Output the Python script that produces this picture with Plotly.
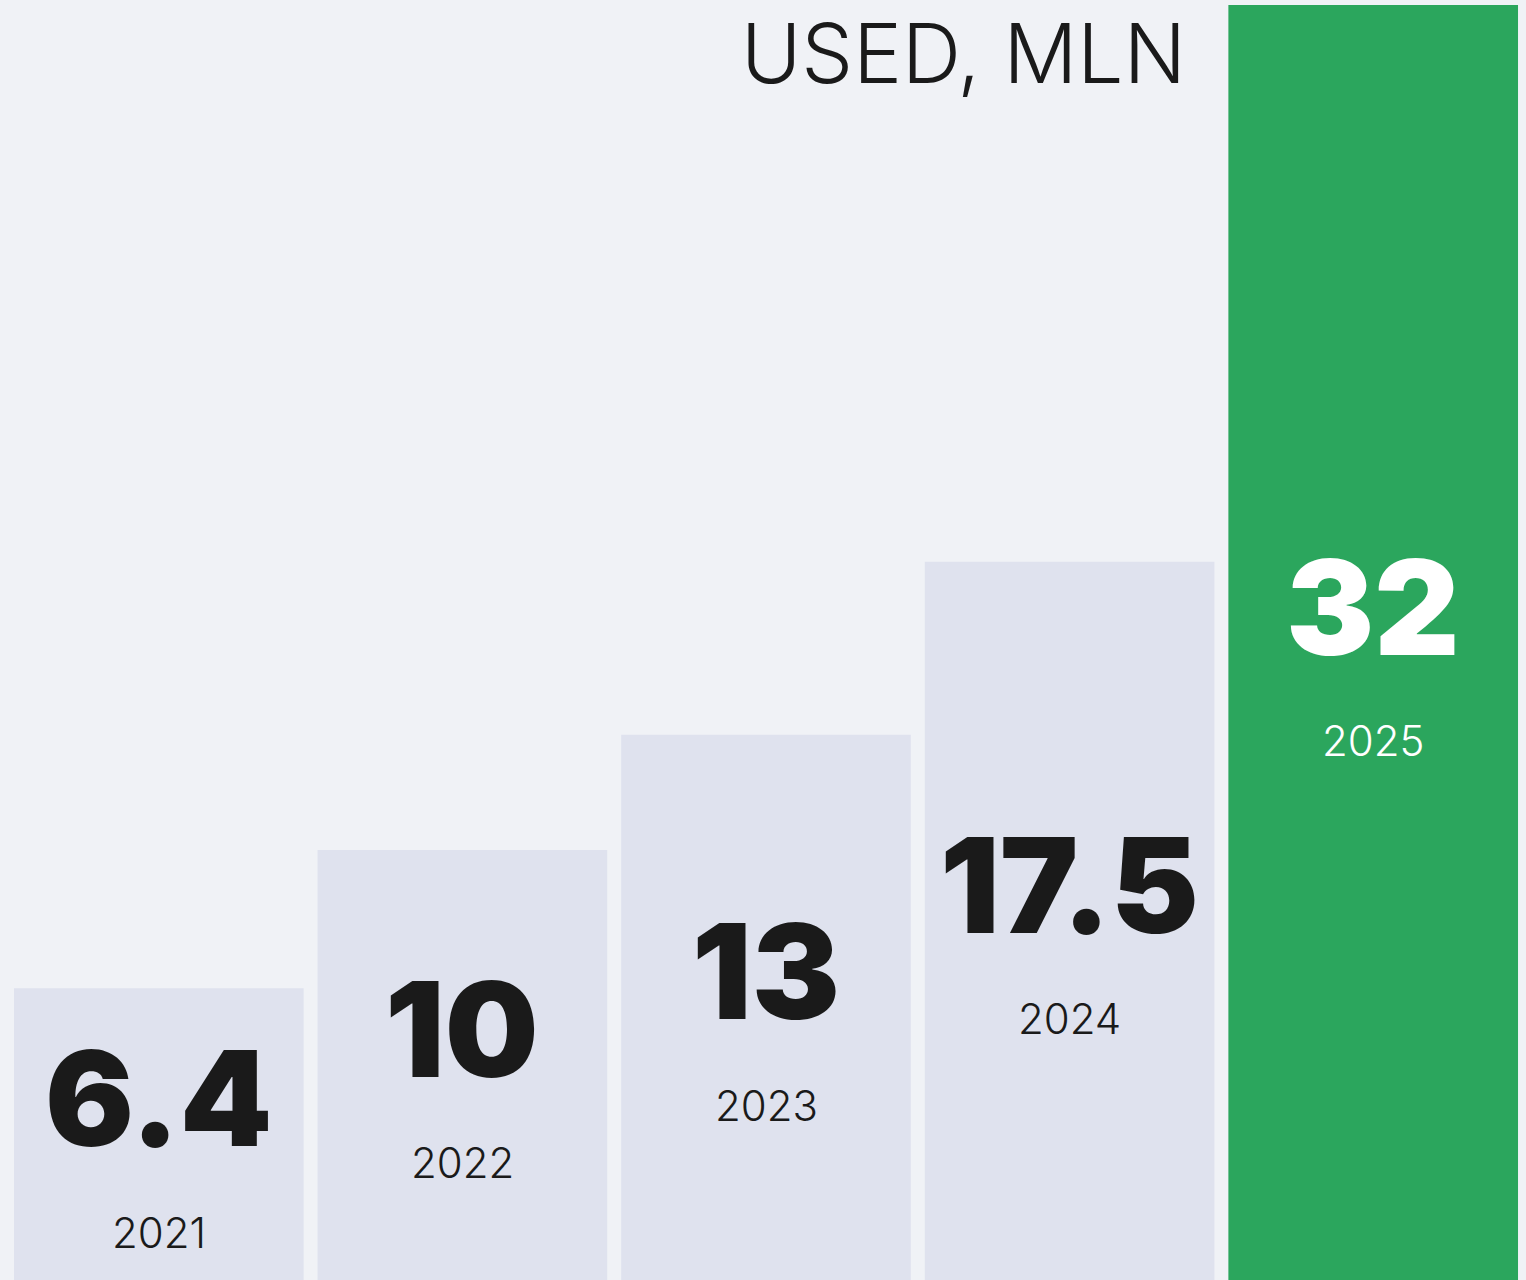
import plotly.graph_objects as go

years = ["2021", "2022", "2023", "2024", "2025"]
values = [6.4, 10, 13, 17.5, 32]
value_labels = ["6.4", "10", "13", "17.5", "32"]
title_text = "USED, MLN"

BASE = -1.2
BG = "#F0F2F6"
LIGHT = "#DFE2EE"
GREEN = "#2BA65D"
DARK = "#1A1A1A"

colors = [LIGHT] * (len(years) - 1) + [GREEN]
txt_colors = [DARK] * (len(years) - 1) + ["#FFFFFF"]

fig = go.Figure()
fig.add_trace(go.Bar(
    x=years,
    y=[v - BASE for v in values],
    base=[BASE] * len(values),
    marker=dict(color=colors, line=dict(width=0)),
    hoverinfo="skip",
))

for i, (yr, v, lab, tc) in enumerate(zip(years, values, value_labels, txt_colors)):
    mid = (BASE + v) / 2
    fig.add_annotation(x=i, y=mid, text=lab, showarrow=False,
                       xanchor="center", yanchor="middle", yshift=36,
                       font=dict(family="Inter", size=132, color=tc, weight=900))
    fig.add_annotation(x=i, y=mid, text=yr, showarrow=False,
                       xanchor="center", yanchor="middle", yshift=-98,
                       font=dict(family="Inter", size=42, color=tc, weight=300))

fig.add_annotation(xref="paper", yref="paper", x=0.778, y=0.962,
                   text=title_text, showarrow=False, xanchor="right", yanchor="middle",
                   font=dict(family="Inter", size=82, color=DARK, weight=300))

fig.update_layout(
    width=1526, height=1280,
    margin=dict(l=7, r=1, t=5, b=0, pad=0),
    paper_bgcolor=BG, plot_bgcolor=BG,
    bargap=0.046,
    showlegend=False,
    xaxis=dict(visible=False, type="category", range=[-0.5, len(years) - 0.5]),
    yaxis=dict(visible=False, range=[BASE, max(values)]),
)

fig.write_html("out.html", config={"displayModeBar": False},
               post_script="document.body.style.margin='0';document.body.style.overflow='hidden';document.body.style.background='#F0F2F6';")
